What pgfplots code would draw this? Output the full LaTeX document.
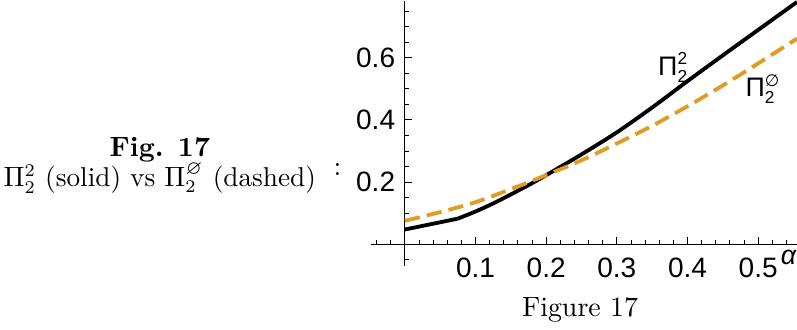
\documentclass[border=0pt]{standalone}
\usepackage{amssymb}
\usepackage{fontspec}
\usepackage{pgfplots}
\pgfplotsset{compat=1.18}
\newfontfamily\lsans{Liberation Sans}
\newfontfamily\djv{DejaVu Sans}
\definecolor{mmaorange}{rgb}{0.880722,0.611041,0.142051}
\newcommand{\sub}{\hbox{\lsans\fontsize{6.8}{7}\selectfont 2}}
\begin{document}
\begin{tikzpicture}[x=1pt,y=1pt]
\useasboundingbox (0,0) rectangle (312.6,129.4);
\node[anchor=base, font=\bfseries\fontsize{10.95}{13}\selectfont, inner sep=0pt] at (62.7,68.0) {Fig. 17};
\node[anchor=base, font=\fontsize{10.7}{13}\selectfont, inner sep=0pt] at (62.7,56.2) {$\Pi_2^2$ (solid) vs $\Pi_2^{\varnothing}$ (dashed)};
\node[anchor=base, inner sep=0pt, font=\fontsize{10.95}{13}\selectfont] at (132.4,60.4) {:};
\node[anchor=base, inner sep=0pt, font=\fontsize{10.95}{13}\selectfont] at (227.5,5.2) {Figure 17};
\begin{axis}[
  at={(145.5pt,24.9pt)}, anchor=south west,
  scale only axis, width=167.1pt, height=104.1pt,
  xmin=-0.048, xmax=0.555, ymin=-0.072, ymax=0.783,
  axis lines=middle,
  axis line style={-, line width=0.45pt},
  tick align=inside,
  major tick length=2.8pt, minor tick length=1.5pt,
  tick style={line width=0.35pt, black},
  xtick={0.1,0.2,0.3,0.4,0.5},
  xticklabels={0.1,0.2,0.3,0.4,0.5},
  ytick={0.2,0.4,0.6},
  yticklabels={0.2,0.4,0.6},
  minor xtick={-0.04,-0.02,0.02,0.04,0.06,0.08,0.12,0.14,0.16,0.18,0.22,0.24,0.26,0.28,0.32,0.34,0.36,0.38,0.42,0.44,0.46,0.48,0.52,0.54},
  minor ytick={-0.05,0.05,0.1,0.15,0.25,0.3,0.35,0.45,0.5,0.55,0.65,0.7,0.75},
  ticklabel style={font=\lsans\fontsize{11}{12}\selectfont},
  xticklabel style={yshift=-1.8pt},
  yticklabel style={xshift=-0.3pt},
  clip=false,
]
\addplot[black, line width=1.5pt, line join=round] coordinates {
 (0,0.047) (0.075,0.082)};
\addplot[black, line width=1.5pt, smooth, tension=0.5, line join=round] coordinates {
 (0.075,0.082) (0.1,0.105) (0.125,0.131) (0.15,0.16) (0.175,0.19)
 (0.2,0.222) (0.25,0.289) (0.3,0.36) (0.35,0.44) (0.4,0.525) (0.45,0.608)
 (0.5,0.69) (0.555,0.78)};
\addplot[mmaorange, line width=1.5pt, smooth, tension=0.5, dash pattern=on 6pt off 2.8pt] coordinates {
 (0,0.075) (0.05,0.103) (0.1,0.135) (0.15,0.177) (0.2,0.222) (0.25,0.27)
 (0.3,0.324) (0.35,0.381) (0.4,0.444) (0.45,0.511) (0.5,0.582) (0.555,0.662)};
\node at (axis cs:0.38,0.569) {{\lsans\fontsize{10.5}{12}\selectfont Π$^{\sub}_{\sub}$}};
\node at (axis cs:0.507,0.498) {{\lsans\fontsize{10.5}{12}\selectfont Π$^{\hbox{\djv\fontsize{6.5}{7}\selectfont ∅}}_{\sub}$}};
\node at (axis cs:0.543,-0.043) {\lsans\itshape\fontsize{10.5}{12}\selectfont α};
\end{axis}
\end{tikzpicture}
\end{document}
